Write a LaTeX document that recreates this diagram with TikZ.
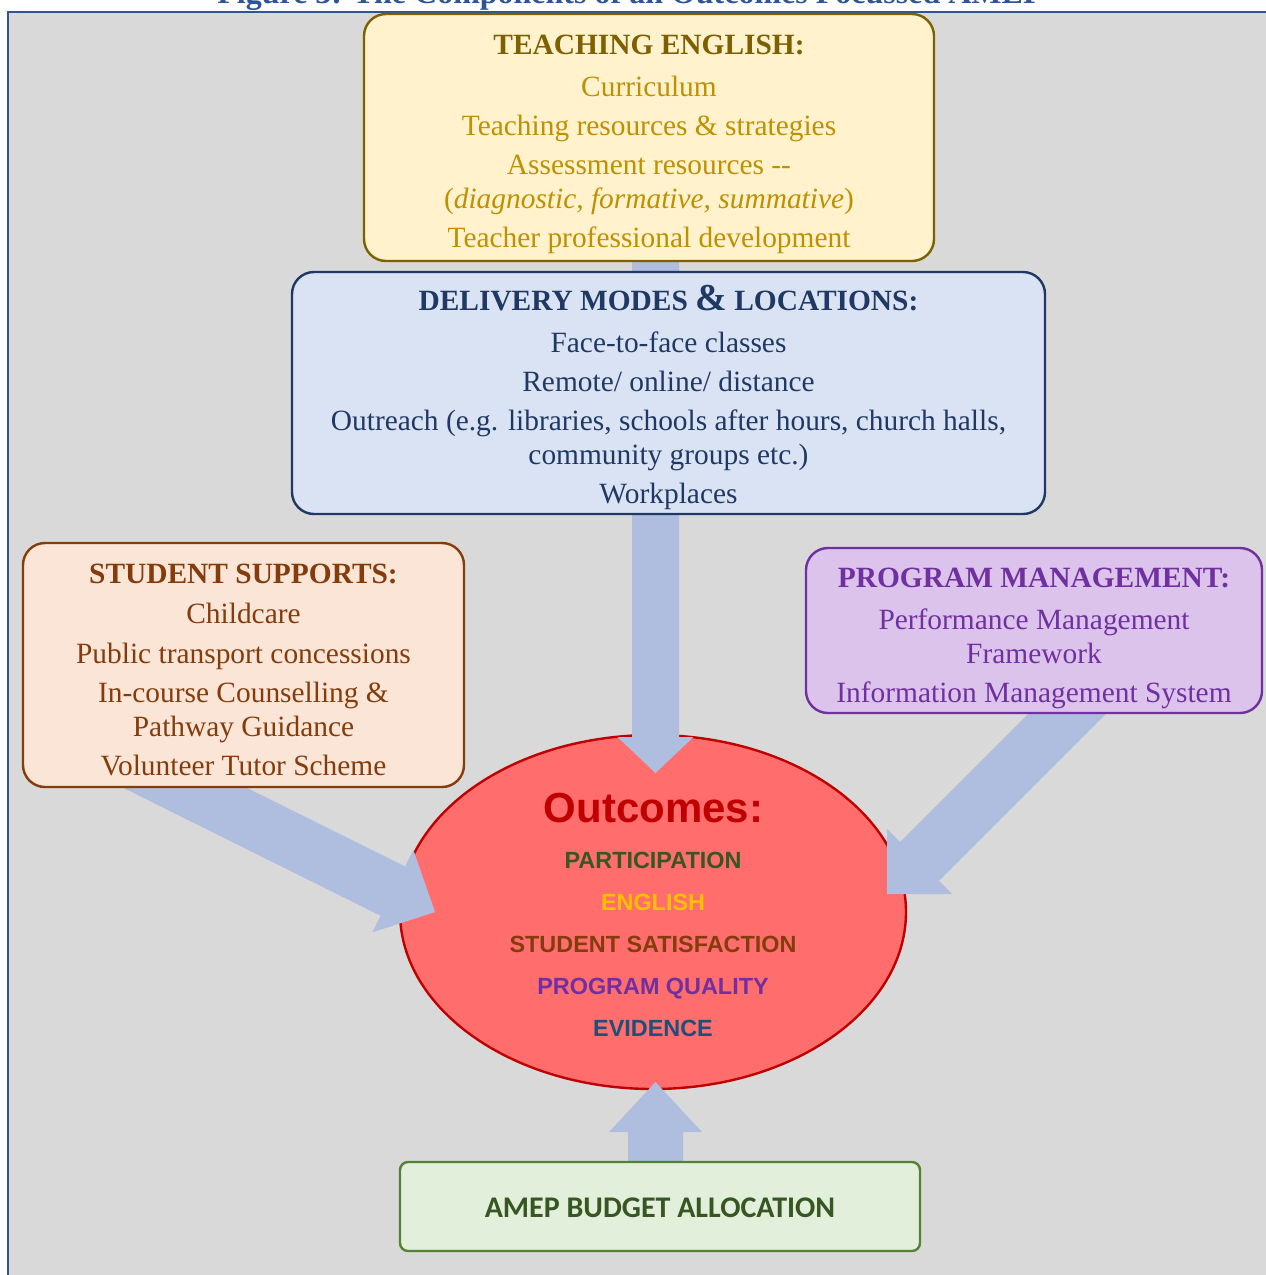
\documentclass[tikz,border=0pt]{standalone}
\usepackage{fontspec}
\setmainfont{Liberation Serif}
\newfontfamily\arialf{Liberation Sans}
\newfontfamily\calf{Carlito}
\usetikzlibrary{calc,shapes.geometric}
\pgfdeclarelayer{bgA}
\pgfdeclarelayer{bgB}
\pgfsetlayers{bgA,bgB,main}
\definecolor{bgGray}{HTML}{D9D9D9}
\definecolor{frameBlue}{HTML}{2F5597}
\definecolor{teachF}{HTML}{FFF2CC}
\definecolor{teachD}{HTML}{7F6000}
\definecolor{teachT}{HTML}{BF9000}
\definecolor{delF}{HTML}{DAE3F3}
\definecolor{delD}{HTML}{203864}
\definecolor{stuF}{HTML}{FBE5D6}
\definecolor{stuD}{HTML}{843C0C}
\definecolor{proF}{HTML}{DBC3EB}
\definecolor{proD}{HTML}{7030A0}
\definecolor{outF}{HTML}{FF6D6D}
\definecolor{outD}{HTML}{C00000}
\definecolor{arrF}{HTML}{AFBDDE}
\definecolor{budF}{HTML}{E2EFDA}
\definecolor{budD}{HTML}{548235}
\definecolor{budT}{HTML}{375623}
\definecolor{engT}{HTML}{FFC000}
\definecolor{evT}{HTML}{1F4E79}
\newcommand\blockarr[5]{%
  \coordinate (bah) at ($(#2)!#5!(#1)$);
  \fill[arrF] ($(#1)!#3!90:(#2)$) -- ($(bah)!#3!90:(#2)$) -- ($(bah)!#4!90:(#2)$) -- (#2)
    -- ($(bah)!#4!-90:(#2)$) -- ($(bah)!#3!-90:(#2)$) -- ($(#1)!#3!-90:(#2)$) -- cycle;
}
\tikzset{
  box/.style={rectangle, rounded corners=11pt, line width=1.2pt, inner sep=0pt},
  txt/.style={align=center, inner sep=0pt, anchor=north, font=\fontsize{14.7}{17}\selectfont},
  outitem/.style={anchor=base, inner sep=0pt, font=\arialf\bfseries\fontsize{11.7}{14}\selectfont}
}
\begin{document}
\begin{tikzpicture}[x=0.5pt,y=-0.5pt]
\useasboundingbox (0,0) rectangle (1265,1275);
% boxes
\node[box, draw=teachD, fill=teachF, minimum width=285pt, minimum height=123.5pt] (teach) at (649,137.5) {};
\node[txt, text=teachT] (teachtxt) at (649,35) {{\bfseries\color{teachD}TEACHING ENGLISH:}\\[4pt]
Curriculum\\[2.5pt]
Teaching resources \& strategies\\[2.5pt]
Assessment resources -{}-\\
(\textit{diagnostic, formative, summative})\\[2.5pt]
Teacher professional development};

\node[box, draw=delD, fill=delF, minimum width=376.5pt, minimum height=121pt] (deliv) at (668.5,393) {};
\node[txt, text=delD] (delivtxt) at (668.5,285) {{\bfseries DELIVERY MODES {\fontsize{19}{17}\selectfont\&} LOCATIONS:}\\[4pt]
Face-to-face classes\\[2.5pt]
Remote/ online/ distance\\[2.5pt]
Outreach (e.g. libraries, schools after hours, church halls,\\
community groups etc.)\\[2.5pt]
Workplaces};

\node[box, draw=stuD, fill=stuF, minimum width=220.5pt, minimum height=122pt] (stud) at (243.5,665) {};
\node[txt, text=stuD] (studtxt) at (243.5,564) {{\bfseries STUDENT SUPPORTS:}\\[3pt]
Childcare\\[3pt]
Public transport concessions\\[2.5pt]
In-course Counselling \&\\
Pathway Guidance\\[2.5pt]
Volunteer Tutor Scheme};

\node[box, draw=proD, fill=proF, minimum width=228pt, minimum height=82.5pt] (prog) at (1034,630.5) {};
\node[txt, text=proD] (progtxt) at (1034,568) {{\bfseries PROGRAM MANAGEMENT:}\\[4pt]
Performance Management\\
Framework\\[2.5pt]
Information Management System};

\node[box, rounded corners=4pt, draw=budD, fill=budF, minimum width=260pt, minimum height=44.5pt] (budget) at (660,1206.5) {};
\node[inner sep=0pt, text=budT, font=\calf\bfseries\fontsize{15}{18}\selectfont] (budtxt) at (660,1208) {AMEP BUDGET ALLOCATION};

% background, title, ellipse
\begin{pgfonlayer}{bgA}
\fill[bgGray] (9,13) rectangle (1300,1300);
\draw[frameBlue, line width=1pt] (8,1300) -- (8,12) -- (1300,12);
\node[anchor=base, inner sep=0pt, text=frameBlue, font=\bfseries\fontsize{16}{19}\selectfont] (title) at (630,3) {Figure 3: The Components of an Outcomes Focussed AMEP};
\node[ellipse, draw=outD, fill=outF, line width=1.2pt, minimum width=253pt, minimum height=177pt, inner sep=0pt] (outc) at (653,912) {};
\node[inner sep=0pt, text=outD, font=\arialf\bfseries\fontsize{21}{24}\selectfont] (oc0) at (653.5,808) {Outcomes:};
\node[outitem, text=budT] (oc1) at (653,868.5) {PARTICIPATION};
\node[outitem, text=engT] (oc2) at (653,910.5) {ENGLISH};
\node[outitem, text=stuD] (oc3) at (653,952.5) {STUDENT SATISFACTION};
\node[outitem, text=proD] (oc4) at (653,994.5) {PROGRAM QUALITY};
\node[outitem, text=evT] (oc5) at (653,1036.5) {EVIDENCE};
\end{pgfonlayer}

% arrows
\coordinate (dA) at (655.5,200);
\coordinate (dB) at (655.5,773);
\coordinate (lA) at (131,761);
\coordinate (lB) at (435,912);
\coordinate (rA) at (1110,671);
\coordinate (rB) at (887,894);
\coordinate (bA) at (655.5,1200);
\coordinate (bB) at (655.5,1082);
\begin{pgfonlayer}{bgB}
\blockarr{dA}{dB}{11.75pt}{19pt}{18pt}
\blockarr{lA}{lB}{13.75pt}{23pt}{23.5pt}
\blockarr{rA}{rB}{13.75pt}{23pt}{23pt}
\blockarr{bA}{bB}{13.75pt}{23.25pt}{25pt}
\end{pgfonlayer}
\end{tikzpicture}
\end{document}
